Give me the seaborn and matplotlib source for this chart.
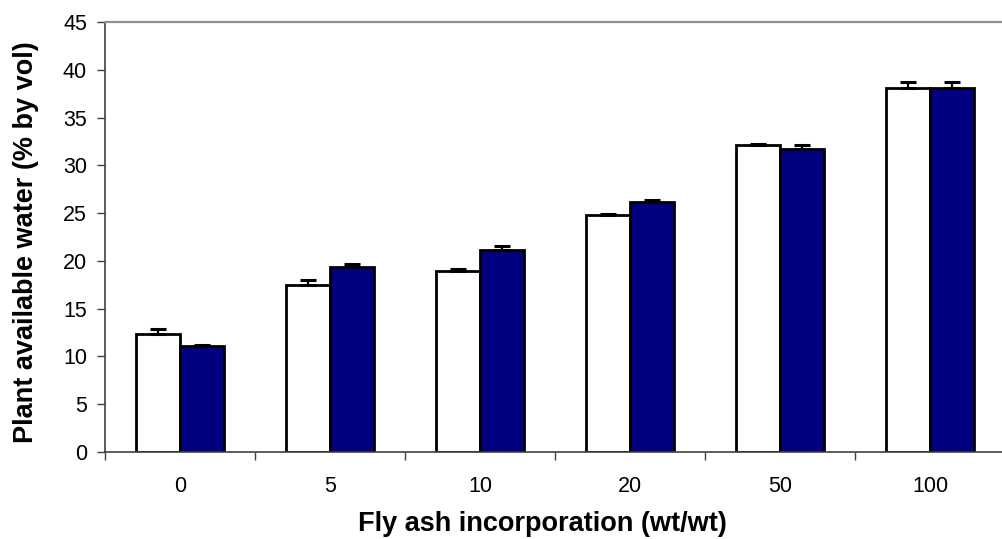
import matplotlib
matplotlib.use("Agg")
import matplotlib.pyplot as plt
import seaborn as sns
import pandas as pd
import numpy as np

categories = ["0", "5", "10", "20", "50", "100"]
series_names = ["Series 1", "Series 2"]
series1 = [12.3, 17.5, 18.9, 24.8, 32.1, 38.1]
series1_err = [0.6, 0.5, 0.3, 0.15, 0.15, 0.6]
series2 = [11.1, 19.4, 21.1, 26.2, 31.7, 38.1]
series2_err = [0.15, 0.3, 0.5, 0.2, 0.4, 0.6]
yticks = [0, 5, 10, 15, 20, 25, 30, 35, 40, 45]

df = pd.DataFrame({
    "cat": categories * 2,
    "series": [series_names[0]] * 6 + [series_names[1]] * 6,
    "value": series1 + series2,
})

sns.set_style("white")
plt.rcParams["font.family"] = ["Liberation Sans", "DejaVu Sans"]
plt.rcParams["text.color"] = "black"
plt.rcParams["axes.labelcolor"] = "black"
plt.rcParams["xtick.color"] = "black"
plt.rcParams["ytick.color"] = "black"

fig = plt.figure(figsize=(10.02, 5.39), dpi=100)
ax = fig.add_axes([105/1002, (539-452)/539, (1005-105)/1002, (452-22)/539])

sns.barplot(data=df, x="cat", y="value", hue="series", order=categories,
            hue_order=series_names, palette=["#FFFFFF", "#000080"],
            saturation=1, edgecolor="black", linewidth=2.0, width=0.59,
            errorbar=None, legend=False, ax=ax)

# error bars (upper only)
errs = {series_names[0]: series1_err, series_names[1]: series2_err}
vals = {series_names[0]: series1, series_names[1]: series2}
for container, name in zip(ax.containers, series_names):
    xs = [p.get_x() + p.get_width() / 2 for p in container.patches]
    e = errs[name]
    ax.errorbar(xs, vals[name], yerr=[np.zeros(len(e)), e], fmt="none",
                ecolor="black", elinewidth=1.6, capsize=5.8, capthick=2.2,
                zorder=5)

ax.set_xlim(-0.5, 5.5)
ax.set_ylim(0, 45)
ax.set_yticks(yticks)
ax.set_yticklabels([str(t) for t in yticks], fontsize=15.5)
ax.set_xticks(range(len(categories)))
ax.set_xticklabels(categories, fontsize=15.5)
ax.set_xticks(np.arange(-0.5, 6.0, 1.0), minor=True)
ax.tick_params(axis="x", which="major", length=0, pad=17)
ax.tick_params(axis="x", which="minor", length=6, width=1, color="#404040",
               direction="out", bottom=True)
ax.tick_params(axis="y", which="major", length=6, width=1, color="#404040",
               direction="out", left=True, pad=7)

for s in ["left", "bottom"]:
    ax.spines[s].set_color("#404040")
    ax.spines[s].set_linewidth(1.2)
ax.spines["top"].set_color("#909090")
ax.spines["top"].set_linewidth(1.6)
ax.spines["right"].set_visible(False)

ax.set_xlabel("Fly ash incorporation (wt/wt)", fontsize=19.5, fontweight="bold")
ax.set_ylabel("Plant available water (% by vol)", fontsize=19.5,
              fontweight="bold")
ax.xaxis.set_label_coords(0.4856, -0.138)
ax.yaxis.set_label_coords(-0.073, 0.487)

fig.savefig("out.png", dpi=100)
